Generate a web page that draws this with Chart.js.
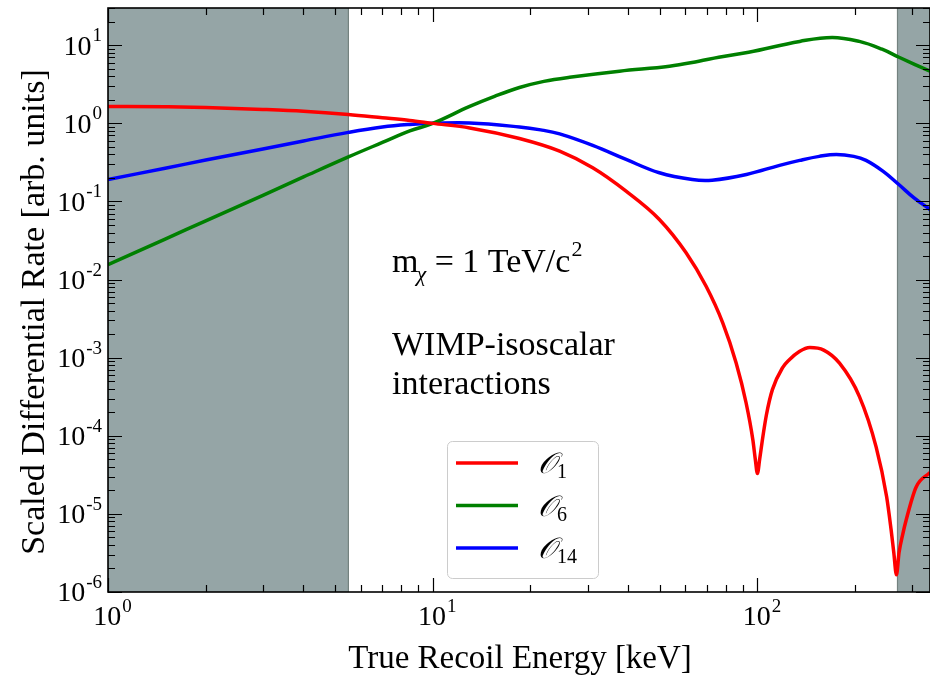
<!DOCTYPE html>
<html>
<head>
<meta charset="utf-8">
<script src="https://cdn.jsdelivr.net/npm/chart.js@4"></script>
<style>
  html, body { margin: 0; padding: 0; background: #fff; overflow: hidden; }
</style>
</head>
<body>
<canvas id="rateChart" width="930" height="676"></canvas>
<script>
// recoil energies [keV] and scaled rates
const energyO1 = [1, 1.5, 2, 3, 4, 5.5, 7, 8.5, 10, 13, 18.5, 24.6, 31.1, 39.4, 49.9,
  60.3, 69.5, 78.2, 86, 92.3, 96.8, 98.5, 100, 101.6, 103.6, 106.6, 111.2, 119.4, 125.4, 134.6,
  145, 160, 179, 206, 232, 250, 258, 263, 268, 273, 280, 287, 308, 340];
const rateO1 = [1.65, 1.63, 1.60, 1.51, 1.43, 1.30, 1.18, 1.09, 1.0, 0.875, 0.64, 0.441, 0.270, 0.1355, 0.0588,
  0.0220, 0.0082, 0.00279, 8.55e-4, 2.63e-4, 8.9e-5, 5.0e-5, 3.3e-5, 5.0e-5, 8.9e-5, 1.86e-4, 3.9e-4, 7.4e-4, 9.4e-4, 1.2e-3,
  1.35e-3, 1.25e-3, 8.5e-4, 3.2e-4, 7.2e-5, 1.66e-5, 6.3e-6, 3.2e-6, 1.66e-6, 3.2e-6, 5.4e-6, 8.3e-6, 2.2e-5, 3.4e-5];

const energyO6 = [1, 1.5, 2, 3, 4, 5.5, 7, 8.5, 10, 13, 15.5, 18.5, 22, 26.4, 37.6,
  53.6, 66, 76, 94, 135, 170, 206, 242, 273, 340];
const rateO6 = [0.0155, 0.033, 0.0566, 0.12, 0.206, 0.372, 0.57, 0.80, 1.0, 1.65, 2.22, 2.88, 3.45, 3.89, 4.65,
  5.38, 6.24, 7.02, 8.13, 11.2, 12.6, 11.2, 8.91, 7.02, 4.65];

const energyO14 = [1, 1.5, 2, 3, 4, 5.5, 7, 8.5, 10, 13, 18.5, 21.5, 24.6, 31.1, 39.4, 49.9,
  63, 72.5, 92.5, 117, 135, 155, 175, 198, 216, 244, 272, 303, 340];
const rateO14 = [0.191, 0.267, 0.339, 0.469, 0.594, 0.767, 0.90, 0.97, 1.0, 1.01, 0.90, 0.826, 0.733, 0.522, 0.345, 0.233,
  0.191, 0.1875, 0.222, 0.29, 0.336, 0.378, 0.40, 0.378, 0.336, 0.243, 0.166, 0.112, 0.079];

const seriesNames = ["1", "6", "14"];          // operator subscripts
const seriesColors = ["#ff0000", "#008000", "#0000ff"];
const xExponents = [0, 1, 2];
const yExponents = [-6, -5, -4, -3, -2, -1, 0, 1];
const shadedRanges = [[1, 5.5], [270, 340]];   // keV

const SERIF = "'Liberation Serif', 'Times New Roman', serif";

const logTicks = function (min, max) {
  const out = [];
  for (let p = -7; p <= 3; p++) {
    for (let m = 1; m <= 9; m++) {
      const v = m * Math.pow(10, p);
      if (v >= min * 0.999 && v <= max * 1.001) out.push({ value: v, major: m === 1 });
    }
  }
  return out;
};

const toPoints = (xs, ys) => xs.map((e, i) => ({ x: e, y: ys[i] }));

// "10" with a raised exponent
const drawPow = function (ctx, exp, x, y, align) {
  const base = "10", sup = String(exp);
  ctx.font = "28px " + SERIF;
  const w1 = ctx.measureText(base).width;
  ctx.font = "19px " + SERIF;
  const w2 = ctx.measureText(sup).width;
  let x0 = x;
  if (align === "right") x0 = x - w1 - w2;
  if (align === "center") x0 = x - (w1 + w2) / 2;
  ctx.textAlign = "left";
  ctx.textBaseline = "middle";
  ctx.font = "28px " + SERIF;
  ctx.fillText(base, x0, y);
  ctx.font = "19px " + SERIF;
  ctx.fillText(sup, x0 + w1 + 1, y - 11);
};

const decor = {
  id: "decor",
  beforeDatasetsDraw(chart) {
    const { ctx, chartArea: a, scales: { x } } = chart;
    ctx.save();
    ctx.beginPath();
    ctx.rect(a.left, a.top, a.right - a.left, a.bottom - a.top);
    ctx.clip();
    shadedRanges.forEach(([lo, hi]) => {
      const x1 = x.getPixelForValue(lo), x2 = x.getPixelForValue(hi);
      ctx.fillStyle = "#95a5a6";
      ctx.fillRect(x1, a.top, x2 - x1, a.bottom - a.top);
      ctx.strokeStyle = "#74827f";
      ctx.lineWidth = 1.2;
      [x1, x2].forEach(px => {
        ctx.beginPath();
        ctx.moveTo(px, a.top);
        ctx.lineTo(px, a.bottom);
        ctx.stroke();
      });
    });
    ctx.restore();
  },
  afterDatasetsDraw(chart) {
    const { ctx, chartArea: a, scales: { x, y } } = chart;
    ctx.save();
    ctx.strokeStyle = "#000";
    ctx.lineWidth = 1.2;
    // inward ticks on all four sides
    x.ticks.forEach(t => {
      const px = Math.round(x.getPixelForValue(t.value)) + 0.5;
      const len = t.major ? 14 : 7;
      ctx.beginPath();
      ctx.moveTo(px, a.bottom); ctx.lineTo(px, a.bottom - len);
      ctx.moveTo(px, a.top); ctx.lineTo(px, a.top + len);
      ctx.stroke();
    });
    y.ticks.forEach(t => {
      const py = Math.round(y.getPixelForValue(t.value)) + 0.5;
      const len = t.major ? 14 : 7;
      ctx.beginPath();
      ctx.moveTo(a.left, py); ctx.lineTo(a.left + len, py);
      ctx.moveTo(a.right, py); ctx.lineTo(a.right - len, py);
      ctx.stroke();
    });
    ctx.lineWidth = 1.6;
    ctx.strokeRect(a.left, a.top, a.right - a.left, a.bottom - a.top);

    // legend
    const bx = 447, by = 441, bw = 151, bh = 137;
    ctx.fillStyle = "rgba(255,255,255,0.85)";
    ctx.strokeStyle = "#cccccc";
    ctx.lineWidth = 1;
    ctx.beginPath();
    ctx.roundRect(bx + 0.5, by + 0.5, bw, bh, 5);
    ctx.fill();
    ctx.stroke();
    seriesNames.forEach((sub, i) => {
      const ly = 463 + i * 42.5;
      ctx.strokeStyle = seriesColors[i];
      ctx.lineWidth = 3.5;
      ctx.beginPath();
      ctx.moveTo(456, ly); ctx.lineTo(518, ly);
      ctx.stroke();
      ctx.fillStyle = "#000";
      ctx.textAlign = "left";
      ctx.textBaseline = "alphabetic";
      ctx.font = "italic 29px " + SERIF;
      ctx.fillText("\u{1D4AA}", 538, ly + 10);
      const w = ctx.measureText("\u{1D4AA}").width;
      ctx.font = "20px " + SERIF;
      ctx.fillText(sub, 538 + w + 1, ly + 15);
    });
    ctx.restore();
  },
  afterDraw(chart) {
    const { ctx, chartArea: a, scales: { x, y } } = chart;
    ctx.save();
    ctx.fillStyle = "#000";
    xExponents.forEach(e => drawPow(ctx, e, x.getPixelForValue(Math.pow(10, e)) + 4, a.bottom + 26, "center"));
    yExponents.forEach(e => drawPow(ctx, e, a.left - 7, y.getPixelForValue(Math.pow(10, e)) + 2, "right"));

    // axis titles
    ctx.font = "33px " + SERIF;
    ctx.textAlign = "center";
    ctx.textBaseline = "alphabetic";
    ctx.fillText("True Recoil Energy [keV]", 520, 668);
    ctx.save();
    ctx.translate(44, 312);
    ctx.rotate(-Math.PI / 2);
    ctx.font = "34px " + SERIF;
    ctx.fillText("Scaled Differential Rate [arb. units]", 0, 0);
    ctx.restore();

    // annotation
    ctx.textAlign = "left";
    ctx.font = "34px " + SERIF;
    ctx.fillText("m", 392, 272);
    const wm = ctx.measureText("m").width;
    ctx.font = "italic 22px " + SERIF;
    ctx.fillText("\u03C7", 392 + wm - 2, 281);
    const wc = ctx.measureText("\u03C7").width;
    ctx.font = "34px " + SERIF;
    const rest = " = 1 TeV/c";
    ctx.fillText(rest, 392 + wm + wc - 2, 272);
    const wr = ctx.measureText(rest).width;
    ctx.font = "22px " + SERIF;
    ctx.fillText("2", 392 + wm + wc + wr - 1, 256);
    ctx.font = "34px " + SERIF;
    ctx.fillText("WIMP-isoscalar", 392, 355);
    ctx.fillText("interactions", 392, 394);
    ctx.restore();
  }
};

const rateChart = new Chart(document.getElementById("rateChart").getContext("2d"), {
  type: "line",
  data: {
    datasets: [
      { label: "O1", data: toPoints(energyO1, rateO1), borderColor: seriesColors[0], cubicInterpolationMode: "monotone" },
      { label: "O6", data: toPoints(energyO6, rateO6), borderColor: seriesColors[1], tension: 0.4 },
      { label: "O14", data: toPoints(energyO14, rateO14), borderColor: seriesColors[2], tension: 0.4 },
    ],
  },
  options: {
    responsive: false,
    animation: false,
    devicePixelRatio: 1,
    layout: { padding: { top: 8, left: 0, right: 0, bottom: 0 } },
    elements: {
      line: { borderWidth: 3.5, fill: false },
      point: { radius: 0 },
    },
    plugins: { legend: { display: false }, tooltip: { enabled: false } },
    scales: {
      x: {
        type: "logarithmic",
        min: 1,
        max: 340,
        grid: { display: false },
        border: { display: false },
        ticks: { display: false },
        afterBuildTicks: s => { s.ticks = logTicks(1, 340); },
        afterFit: s => { s.height = 84; },
      },
      y: {
        type: "logarithmic",
        min: 1e-6,
        max: 30,
        grid: { display: false },
        border: { display: false },
        ticks: { display: false },
        afterBuildTicks: s => { s.ticks = logTicks(1e-6, 30); },
        afterFit: s => { s.width = 108; },
      },
    },
  },
  plugins: [decor],
});
</script>
</body>
</html>
